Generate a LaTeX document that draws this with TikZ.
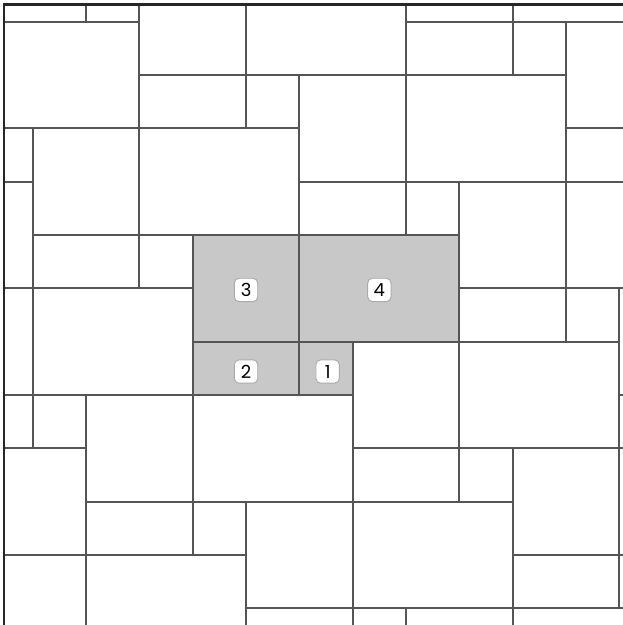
\documentclass[tikz,border=0pt]{standalone}
\usepackage{fontspec}
\newfontfamily\numfont{Poppins}
\definecolor{edgegray}{HTML}{555555}
\definecolor{tilegray}{HTML}{C8C8C8}
\definecolor{boxgray}{HTML}{ABABAB}
\definecolor{framegray}{HTML}{262626}
\tikzset{
  tile/.style={draw=edgegray,line width=1.45pt},
  shaded/.style={fill=tilegray},
  numbox/.style={draw=boxgray,fill=white,line width=0.7pt,rounded corners=3.5pt,
    minimum size=17.5pt,inner sep=0pt,font=\numfont\fontsize{13.5pt}{13.5pt}\selectfont},
  frame/.style={draw=framegray,line width=2.2pt}
}
\begin{document}
\begin{tikzpicture}[x=40pt,y=-40pt]
\useasboundingbox (0.386,-0.407) rectangle (12.068,11.313);
\begin{scope}
\clip (0.461,-0.326) rectangle (12.068,11.313);
% shaded squares 1 to 4
\fill[shaded] (4,4) rectangle (6,6);
\fill[shaded] (6,4) rectangle (9,6);
\fill[shaded] (4,6) rectangle (6,7);
\fill[shaded] (6,6) rectangle (7,7);
% top strip
\draw[tile] (0,-1) rectangle (2,0);
\draw[tile] (2,-1) rectangle (3,0);
\draw[tile] (3,-1) rectangle (5,1);
\draw[tile] (5,-1) rectangle (8,1);
\draw[tile] (8,-1) rectangle (10,0);
\draw[tile] (10,-1) rectangle (13,0);
% upper rows
\draw[tile] (-1,0) rectangle (3,2);
\draw[tile] (3,1) rectangle (5,2);
\draw[tile] (5,1) rectangle (6,2);
\draw[tile] (6,1) rectangle (8,3);
\draw[tile] (8,0) rectangle (10,1);
\draw[tile] (10,0) rectangle (11,1);
\draw[tile] (11,0) rectangle (13,2);
\draw[tile] (8,1) rectangle (11,3);
\draw[tile] (11,2) rectangle (13,3);
% left column
\draw[tile] (-1,2) rectangle (1,3);
\draw[tile] (-1,3) rectangle (1,5);
\draw[tile] (-1,5) rectangle (1,7);
\draw[tile] (-1,7) rectangle (1,8);
\draw[tile] (-1,8) rectangle (2,10);
\draw[tile] (-1,10) rectangle (2,12);
% middle rows
\draw[tile] (1,2) rectangle (3,4);
\draw[tile] (3,2) rectangle (6,4);
\draw[tile] (6,3) rectangle (8,4);
\draw[tile] (8,3) rectangle (9,4);
\draw[tile] (9,3) rectangle (11,5);
\draw[tile] (11,3) rectangle (13,5);
\draw[tile] (1,4) rectangle (3,5);
\draw[tile] (3,4) rectangle (4,5);
\draw[tile] (4,4) rectangle (6,6);
\draw[tile] (6,4) rectangle (9,6);
\draw[tile] (9,5) rectangle (11,6);
\draw[tile] (11,5) rectangle (12,6);
\draw[tile] (12,5) rectangle (13,7);
\draw[tile] (1,5) rectangle (4,7);
\draw[tile] (4,6) rectangle (6,7);
\draw[tile] (6,6) rectangle (7,7);
\draw[tile] (7,6) rectangle (9,8);
\draw[tile] (9,6) rectangle (12,8);
\draw[tile] (12,7) rectangle (13,8);
% lower rows
\draw[tile] (1,7) rectangle (2,8);
\draw[tile] (2,7) rectangle (4,9);
\draw[tile] (4,7) rectangle (7,9);
\draw[tile] (7,8) rectangle (9,9);
\draw[tile] (9,8) rectangle (10,9);
\draw[tile] (10,8) rectangle (12,10);
\draw[tile] (12,8) rectangle (13,10);
\draw[tile] (2,9) rectangle (4,10);
\draw[tile] (4,9) rectangle (5,10);
\draw[tile] (5,9) rectangle (7,11);
\draw[tile] (7,9) rectangle (10,11);
\draw[tile] (10,10) rectangle (12,11);
\draw[tile] (12,10) rectangle (13,11);
% bottom strip
\draw[tile] (2,10) rectangle (5,12);
\draw[tile] (5,11) rectangle (7,12);
\draw[tile] (7,11) rectangle (8,12);
\draw[tile] (8,11) rectangle (10,12);
\draw[tile] (10,11) rectangle (13,12);
\end{scope}
% numbers
\node[numbox] (sq3) at (5,5.03) {3};
\node[numbox] (sq4) at (7.5,5.03) {4};
\node[numbox] (sq2) at (5,6.56) {2};
\node[numbox] (sq1) at (6.53,6.56) {1};
% frame on top and left
\draw[frame] (0.461,11.4) -- (0.461,-0.326) -- (12.1,-0.326);
\end{tikzpicture}
\end{document}
